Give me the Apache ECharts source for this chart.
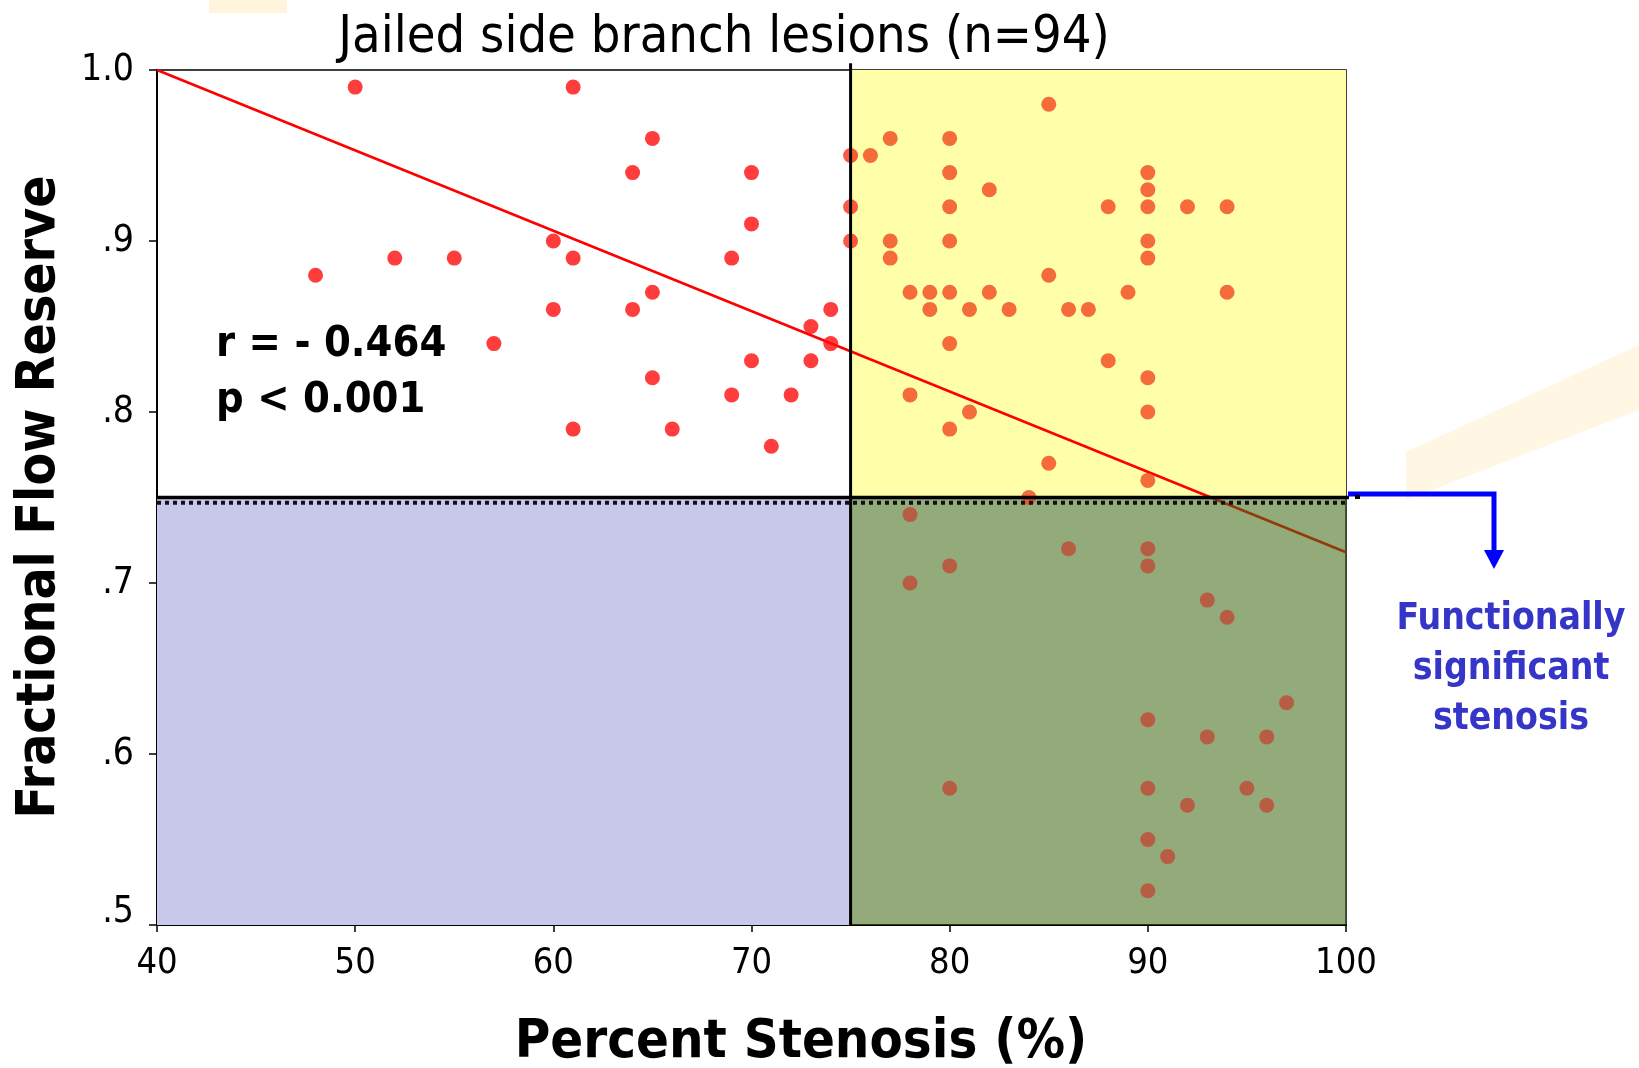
<!DOCTYPE html>
<html>
<head>
<meta charset="utf-8">
<script src="https://cdn.jsdelivr.net/npm/echarts@6/dist/echarts.min.js"></script>
<style>
html,body{margin:0;padding:0;background:#fff;}
#chart{width:1639px;height:1068px;}
</style>
</head>
<body>
<div id="chart"></div>
<script>
// ---------- data ----------
const stenosis = [
  50,61,65,64,70,70,60,52,55,61,69,48,65,60,64,74,73,57,74,70,73,65,69,72,61,66,71,
  85,77,80,75,76,80,90,82,90,75,80,88,90,92,94,75,77,80,90,77,90,85,78,79,80,82,89,94,79,81,83,86,87,80,88,90,78,81,90,80,85,90,84,
  78,86,90,80,90,78,93,94,97,90,93,96,80,90,95,92,96,90,91,90
];
const ffr = [
  .99,.99,.96,.94,.94,.91,.90,.89,.89,.89,.89,.88,.87,.86,.86,.86,.85,.84,.84,.83,.83,.82,.81,.81,.79,.79,.78,
  .98,.96,.96,.95,.95,.94,.94,.93,.93,.92,.92,.92,.92,.92,.92,.90,.90,.90,.90,.89,.89,.88,.87,.87,.87,.87,.87,.87,.86,.86,.86,.86,.86,.84,.83,.82,.81,.80,.80,.79,.77,.76,.75,
  .74,.72,.72,.71,.71,.70,.69,.68,.63,.62,.61,.61,.58,.58,.58,.57,.57,.55,.54,.52
];
const regressionX = [40, 100];
const regressionY = [1.0, 0.718];
const stenosisCut = 75;
const ffrCut = 0.75;
const xTicks = [40, 50, 60, 70, 80, 90, 100];
const yTickLabels = {'1.0':'1.0','0.9':'.9','0.8':'.8','0.7':'.7','0.6':'.6','0.5':'.5'};
const titleText = 'Jailed side branch lesions (n=94)';
const statsText = ['r = - 0.464', 'p < 0.001'];
const noteText = ['Functionally', 'significant', 'stenosis'];

// ---------- build ----------
const points = stenosis.map((x, i) => [x, ffr[i]]);
// opaque regions under the marks
const baseRegions = [
  [40, 0.5, stenosisCut, ffrCut, '#c7c8ea'],
  [stenosisCut, ffrCut, 100, 1.0, '#ffffaa']
];
// translucent region over the regression line
const overRegions = [
  [stenosisCut, 0.5, 100, ffrCut, 'rgba(62,104,18,0.56)']
];
function dotColor(p) {
  const x = p.value[0], y = p.value[1];
  if (x > stenosisCut && y >= ffrCut) return '#f2461e';
  if (x >= stenosisCut && y < ffrCut) return '#c04a36';
  if (x === stenosisCut) return '#f8301a';
  return '#ff0d0d';
}
function rectItem(params, api) {
  const p0 = api.coord([api.value(0), api.value(3)]);
  const p1 = api.coord([api.value(2), api.value(1)]);
  return {type: 'rect', shape: {x: p0[0], y: p0[1], width: p1[0] - p0[0], height: p1[1] - p0[1]},
    style: {fill: api.value(4)}};
}

const FONT = '"DejaVu Sans Condensed", "DejaVu Sans", sans-serif';
const chart = echarts.init(document.getElementById('chart'), null, {renderer: 'canvas'});

const option = {
  backgroundColor: '#ffffff',
  animation: false,
  grid: {left: 157, top: 70, width: 1189, height: 855, show: true, borderColor: '#000', borderWidth: 1.5, backgroundColor: 'transparent'},
  xAxis: {
    type: 'value', min: 40, max: 100, interval: 10,
    axisLine: {show: true, onZero: false, lineStyle: {color: '#000', width: 2}},
    axisTick: {show: true, length: 7, lineStyle: {color: '#000', width: 1.5}},
    axisLabel: {color: '#000', fontSize: 36, fontFamily: FONT, margin: 21,
      formatter: v => xTicks.includes(v) ? String(v) : ''},
    splitLine: {show: false}
  },
  yAxis: {
    type: 'value', min: 0.5, max: 1.0, interval: 0.1,
    axisLine: {show: true, onZero: false, lineStyle: {color: '#000', width: 2}},
    axisTick: {show: true, length: 8, lineStyle: {color: '#000', width: 1.5}},
    axisLabel: {color: '#000', fontSize: 37, fontFamily: FONT, margin: 23,
      formatter: v => {
        const t = yTickLabels[v.toFixed(1)] || '';
        return v < 0.55 ? '{low|' + t + '}' : t;
      },
      rich: {low: {fontSize: 37, fontFamily: FONT, color: '#000', padding: [0, 0, 26, 0]}}
    },
    splitLine: {show: false}
  },
  series: [
    {
      type: 'custom', z: 1, silent: true, data: baseRegions, renderItem: rectItem,
      dimensions: ['x0', 'y0', 'x1', 'y1', {name: 'c', type: 'ordinal'}]
    },
    {
      type: 'line', z: 2, data: regressionX.map((x, i) => [x, regressionY[i]]),
      symbol: 'none', lineStyle: {color: '#ff0000', width: 2.6}, silent: true
    },
    {
      type: 'custom', z: 3, silent: true, data: overRegions, renderItem: rectItem,
      dimensions: ['x0', 'y0', 'x1', 'y1', {name: 'c', type: 'ordinal'}]
    },
    {
      type: 'scatter', z: 4, data: points, symbol: 'circle', symbolSize: 15,
      itemStyle: {color: dotColor}, silent: true
    },
    {
      type: 'line', z: 8, clip: false, data: [[stenosisCut, 0.5], [stenosisCut, 1.004]],
      symbol: 'none', lineStyle: {color: '#000', width: 3}, silent: true
    },
    {
      type: 'line', z: 8, clip: false, data: [[40, ffrCut], [100.4, ffrCut]],
      symbol: 'none', lineStyle: {color: '#000', width: 3.5}, silent: true
    },
    {
      type: 'line', z: 8, clip: false, data: [[40, ffrCut - 0.003], [100, ffrCut - 0.003]],
      symbol: 'none', lineStyle: {color: '#111', width: 4, type: [4, 4]}, silent: true
    }
  ],
  graphic: [
    {type: 'polygon', z: -10, shape: {points: [[1406, 452], [1639, 345], [1639, 410], [1406, 500]]}, style: {fill: '#fff7e3'}},
    {type: 'rect', z: -10, shape: {x: 209, y: 0, width: 78, height: 13}, style: {fill: '#fff4dc'}},
    {type: 'text', z: 100, x: 724, y: 38, style: {text: titleText, font: '400 52px ' + FONT, fill: '#000', textAlign: 'center', textVerticalAlign: 'middle'}},
    {type: 'text', z: 100, x: 801, y: 1043, style: {text: 'Percent Stenosis (%)', font: 'bold 54px ' + FONT, fill: '#000', textAlign: 'center', textVerticalAlign: 'middle'}},
    {type: 'text', z: 100, x: 40, y: 497, rotation: Math.PI / 2, style: {text: 'Fractional Flow Reserve', font: 'bold 53px ' + FONT, fill: '#000', textAlign: 'center', textVerticalAlign: 'middle'}},
    {type: 'text', z: 100, x: 216, y: 345, style: {text: statsText[0], font: 'bold 43px ' + FONT, fill: '#000', textAlign: 'left', textVerticalAlign: 'middle'}},
    {type: 'text', z: 100, x: 216, y: 401, style: {text: statsText[1], font: 'bold 43px ' + FONT, fill: '#000', textAlign: 'left', textVerticalAlign: 'middle'}},
    {type: 'text', z: 100, x: 1511, y: 619, style: {text: noteText[0], font: 'bold 37px ' + FONT, fill: '#3535c8', textAlign: 'center', textVerticalAlign: 'middle'}},
    {type: 'text', z: 100, x: 1511, y: 669, style: {text: noteText[1], font: 'bold 37px ' + FONT, fill: '#3535c8', textAlign: 'center', textVerticalAlign: 'middle'}},
    {type: 'text', z: 100, x: 1511, y: 719, style: {text: noteText[2], font: 'bold 37px ' + FONT, fill: '#3535c8', textAlign: 'center', textVerticalAlign: 'middle'}},
    {type: 'polyline', z: 100, shape: {points: [[1348, 494], [1494, 494], [1494, 552]]}, style: {stroke: '#0000ff', lineWidth: 5, fill: null}},
    {type: 'polygon', z: 100, shape: {points: [[1484, 550], [1504, 550], [1494, 569]]}, style: {fill: '#0000ff'}},
    {type: 'rect', z: 100, shape: {x: 1355, y: 495, width: 5, height: 4}, style: {fill: '#000'}}
  ]
};
chart.setOption(option);
</script>
</body>
</html>
